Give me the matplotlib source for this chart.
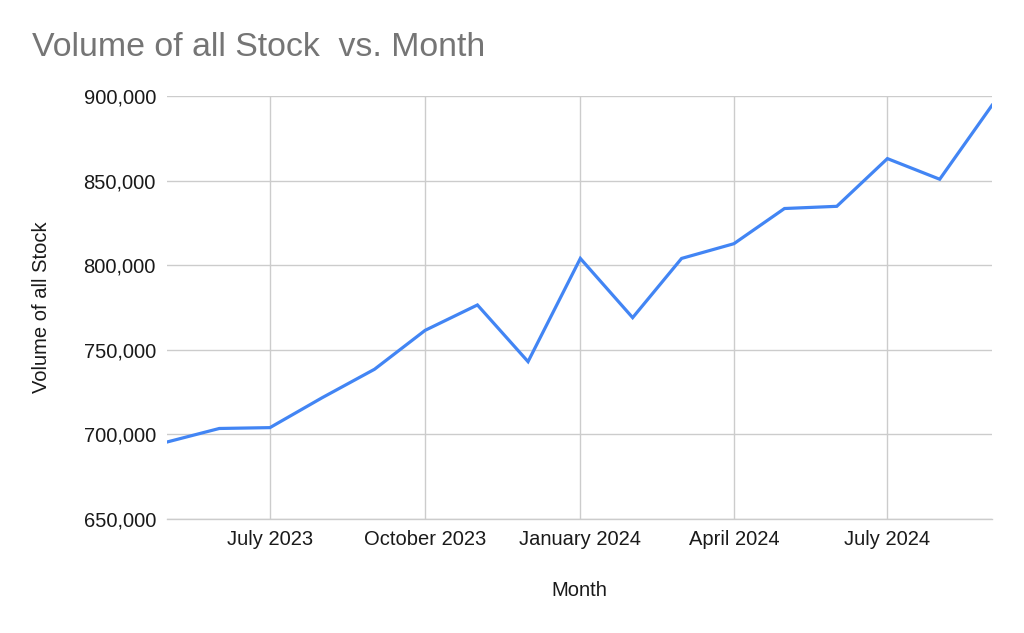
import datetime as dt

import matplotlib
matplotlib.use("Agg")
import matplotlib.dates as mdates
import matplotlib.pyplot as plt
from matplotlib.ticker import FuncFormatter

plt.rcParams["font.family"] = ["Liberation Sans", "DejaVu Sans"]

# ── Data ─────────────────────────────────────────────────────────────────
months = [
    "2023-05", "2023-06", "2023-07", "2023-08", "2023-09", "2023-10",
    "2023-11", "2023-12", "2024-01", "2024-02", "2024-03", "2024-04",
    "2024-05", "2024-06", "2024-07", "2024-08", "2024-09",
]
volume = [
    695500, 703500, 704000, 721700, 738500, 761500,
    776500, 743000, 804000, 769000, 804000, 812700,
    833500, 834800, 863000, 850800, 894500,
]
y_ticks = [650000, 700000, 750000, 800000, 850000, 900000]
x_ticks = ["2023-07", "2023-10", "2024-01", "2024-04", "2024-07"]

TITLE = "Volume of all Stock  vs. Month"
X_LABEL = "Month"
Y_LABEL = "Volume of all Stock"


def to_date(s):
    return dt.datetime.strptime(s, "%Y-%m")


dates = [to_date(m) for m in months]

W, H = 1024, 633
fig = plt.figure(figsize=(W / 100, H / 100), dpi=100)
ax = fig.add_axes([167 / W, 114 / H, 825 / W, 423 / H])

ax.plot(dates, volume, color="#4285F4", linewidth=2.3, solid_joinstyle="miter")

ax.set_xlim(dates[0], dates[-1])
ax.set_ylim(y_ticks[0], y_ticks[-1])
ax.set_yticks(y_ticks)
ax.yaxis.set_major_formatter(FuncFormatter(lambda v, _: f"{int(v):,}"))
ax.set_xticks([to_date(m) for m in x_ticks])
ax.xaxis.set_major_formatter(mdates.DateFormatter("%B %Y"))

ax.grid(True, color="#cccccc", linewidth=1.0)
ax.set_axisbelow(True)
for side in ["top", "right", "left"]:
    ax.spines[side].set_visible(False)
ax.spines["bottom"].set_color("#cccccc")
ax.spines["bottom"].set_linewidth(1.0)

ax.tick_params(axis="both", length=0, labelsize=14.5, colors="#1a1a1a")
ax.tick_params(axis="y", pad=8)
ax.tick_params(axis="x", pad=8)

ax.set_xlabel(X_LABEL, fontsize=14.5, color="#1a1a1a", va="center")
ax.set_ylabel(Y_LABEL, fontsize=14.5, color="#1a1a1a", va="center")
ax.xaxis.set_label_coords((579 - 167) / 825, (519 - 590) / 423)
ax.yaxis.set_label_coords((42 - 167) / 825, 0.5)

fig.text(32 / W, 1 - 47 / H, TITLE, fontsize=24.4, color="#757575",
         ha="left", va="center")

fig.savefig("out.png", dpi=100)
